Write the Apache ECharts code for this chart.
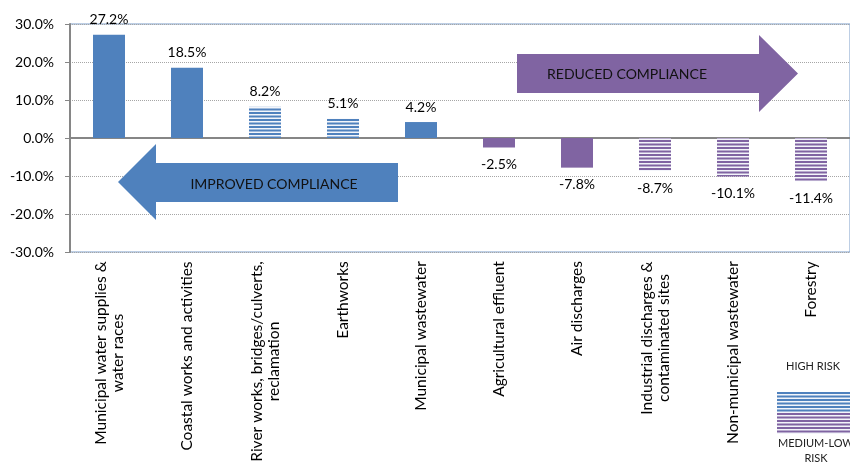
<!DOCTYPE html>
<html>
<head>
<meta charset="utf-8">
<script src="https://cdn.jsdelivr.net/npm/echarts@6/dist/echarts.min.js"></script>
<style>
  html, body { margin: 0; padding: 0; background: #fff; }
  #main { width: 850px; height: 465px; }
</style>
</head>
<body>
<div id="main"></div>
<script>
const categories = [
  'Municipal water supplies &\nwater races',
  'Coastal works and activities',
  'River works, bridges/culverts,\nreclamation',
  'Earthworks',
  'Municipal wastewater',
  'Agricultural effluent',
  'Air discharges',
  'Industrial discharges &\ncontaminated sites',
  'Non-municipal wastewater',
  'Forestry'
];
// change in compliance, percentage points
const changePct = [27.2, 18.5, 8.2, 5.1, 4.2, -2.5, -7.8, -8.7, -10.1, -11.4];
const riskLevel = ['high', 'high', 'medium-low', 'medium-low', 'high', 'high', 'high', 'medium-low', 'medium-low', 'medium-low'];
const yMin = -30, yMax = 30, yStep = 10;

const BLUE = '#4f81bd';
const PURPLE = '#8064a2';
const FONT = 'Lato';
const XFONT = 15.5;

// horizontal stripe fill
function stripes(color, w, h) {
  const c = document.createElement('canvas');
  c.width = w || 8; c.height = h || 7;
  const ctx = c.getContext('2d');
  ctx.fillStyle = '#f3f5fa';
  ctx.fillRect(0, 0, c.width, c.height);
  ctx.fillStyle = color;
  for (let y = 0; y < c.height; y += 3.5) ctx.fillRect(0, y, c.width, 2);
  return c;
}
const blueStripe = { image: stripes(BLUE), repeat: 'repeat' };
const purpleStripe = { image: stripes(PURPLE), repeat: 'repeat' };

// legend swatch: blue stripes on top, purple below
const swatch = document.createElement('canvas');
swatch.width = 74; swatch.height = 42;
(function () {
  const ctx = swatch.getContext('2d');
  ctx.fillStyle = '#f3f5fa';
  ctx.fillRect(0, 0, 74, 42);
  for (let y = 0; y < 42; y += 3.5) {
    ctx.fillStyle = y < 20 ? BLUE : PURPLE;
    ctx.fillRect(0, y, 74, 2);
  }
})();

// rich styles so multi-line labels are centred line by line
const meas = document.createElement('canvas').getContext('2d');
meas.font = XFONT + 'px ' + FONT;
const rich = {};
categories.forEach((c, i) => {
  const w = Math.max(...c.split('\n').map(s => meas.measureText(s).width));
  rich['c' + i] = { width: Math.ceil(w), align: 'center', fontSize: XFONT, fontFamily: FONT, color: '#000', lineHeight: 17 };
});

const barData = changePct.map((v, i) => {
  const pos = v >= 0;
  const striped = riskLevel[i] !== 'high';
  return {
    value: v,
    itemStyle: { color: striped ? (pos ? blueStripe : purpleStripe) : (pos ? BLUE : PURPLE) },
    label: { position: pos ? 'top' : 'bottom', distance: pos ? 8 : 10 }
  };
});

const chart = echarts.init(document.getElementById('main'));
chart.setOption({
  animation: false,
  textStyle: { fontFamily: FONT },
  grid: { left: 70, right: -1, top: 24, bottom: 212, show: true, borderColor: '#7a9cc8', borderWidth: 1 },
  xAxis: [
    {
      type: 'category',
      data: categories,
      axisLine: { onZero: true, lineStyle: { color: '#868686', width: 2 } },
      axisTick: { length: 6, lineStyle: { color: '#868686', width: 1 } },
      axisLabel: { show: false },
      splitLine: { show: false }
    },
    {
      type: 'category',
      data: categories,
      position: 'bottom',
      axisLine: { show: false, onZero: false },
      axisTick: { show: false },
      axisLabel: {
        rotate: 90,
        interval: 0,
        margin: 9,
        fontSize: XFONT,
        fontFamily: FONT,
        color: '#000',
        lineHeight: 17,
        rich: rich,
        formatter: (v, i) => v.split('\n').map(s => '{c' + i + '|' + s + '}').join('\n')
      }
    }
  ],
  yAxis: {
    type: 'value',
    min: yMin,
    max: yMax,
    interval: yStep,
    axisLine: { show: true, lineStyle: { color: '#868686', width: 2 } },
    axisTick: { show: true, length: 5, lineStyle: { color: '#868686' } },
    axisLabel: { margin: 16, fontSize: 14, fontFamily: FONT, color: '#000', formatter: v => v.toFixed(1) + '%' },
    splitLine: { lineStyle: { color: '#a6a6a6', type: [1, 1], width: 1 } }
  },
  series: [{
    type: 'bar',
    xAxisIndex: 0,
    barWidth: 32,
    data: barData,
    label: {
      show: true,
      fontSize: 14,
      fontFamily: FONT,
      color: '#000',
      formatter: p => p.value.toFixed(1) + '%'
    }
  }],
  graphic: [
    {
      type: 'polygon',
      shape: { points: [[517, 54], [759, 54], [759, 35], [798, 73.5], [759, 112], [759, 93], [517, 93]] },
      style: { fill: PURPLE },
      z: 10
    },
    {
      type: 'text', x: 627, y: 74, z: 11,
      style: { text: 'REDUCED COMPLIANCE', fill: '#111', font: '14px ' + FONT, align: 'center', verticalAlign: 'middle' }
    },
    {
      type: 'polygon',
      shape: { points: [[398, 163], [156, 163], [156, 144], [118, 182], [156, 220], [156, 202], [398, 202]] },
      style: { fill: BLUE },
      z: 10
    },
    {
      type: 'text', x: 274, y: 184, z: 11,
      style: { text: 'IMPROVED COMPLIANCE', fill: '#111', font: '14px ' + FONT, align: 'center', verticalAlign: 'middle' }
    },
    {
      type: 'text', x: 813, y: 366,
      style: { text: 'HIGH RISK', fill: '#222', font: '11px ' + FONT, align: 'center', verticalAlign: 'middle' }
    },
    {
      type: 'image', x: 777, y: 392,
      style: { image: swatch, width: 74, height: 42 }
    },
    {
      type: 'text', x: 778, y: 443,
      style: { text: 'MEDIUM-LOW', fill: '#222', font: '11px ' + FONT, align: 'left', verticalAlign: 'middle' }
    },
    {
      type: 'text', x: 816, y: 458,
      style: { text: 'RISK', fill: '#222', font: '11px ' + FONT, align: 'center', verticalAlign: 'middle' }
    }
  ]
});
</script>
</body>
</html>
